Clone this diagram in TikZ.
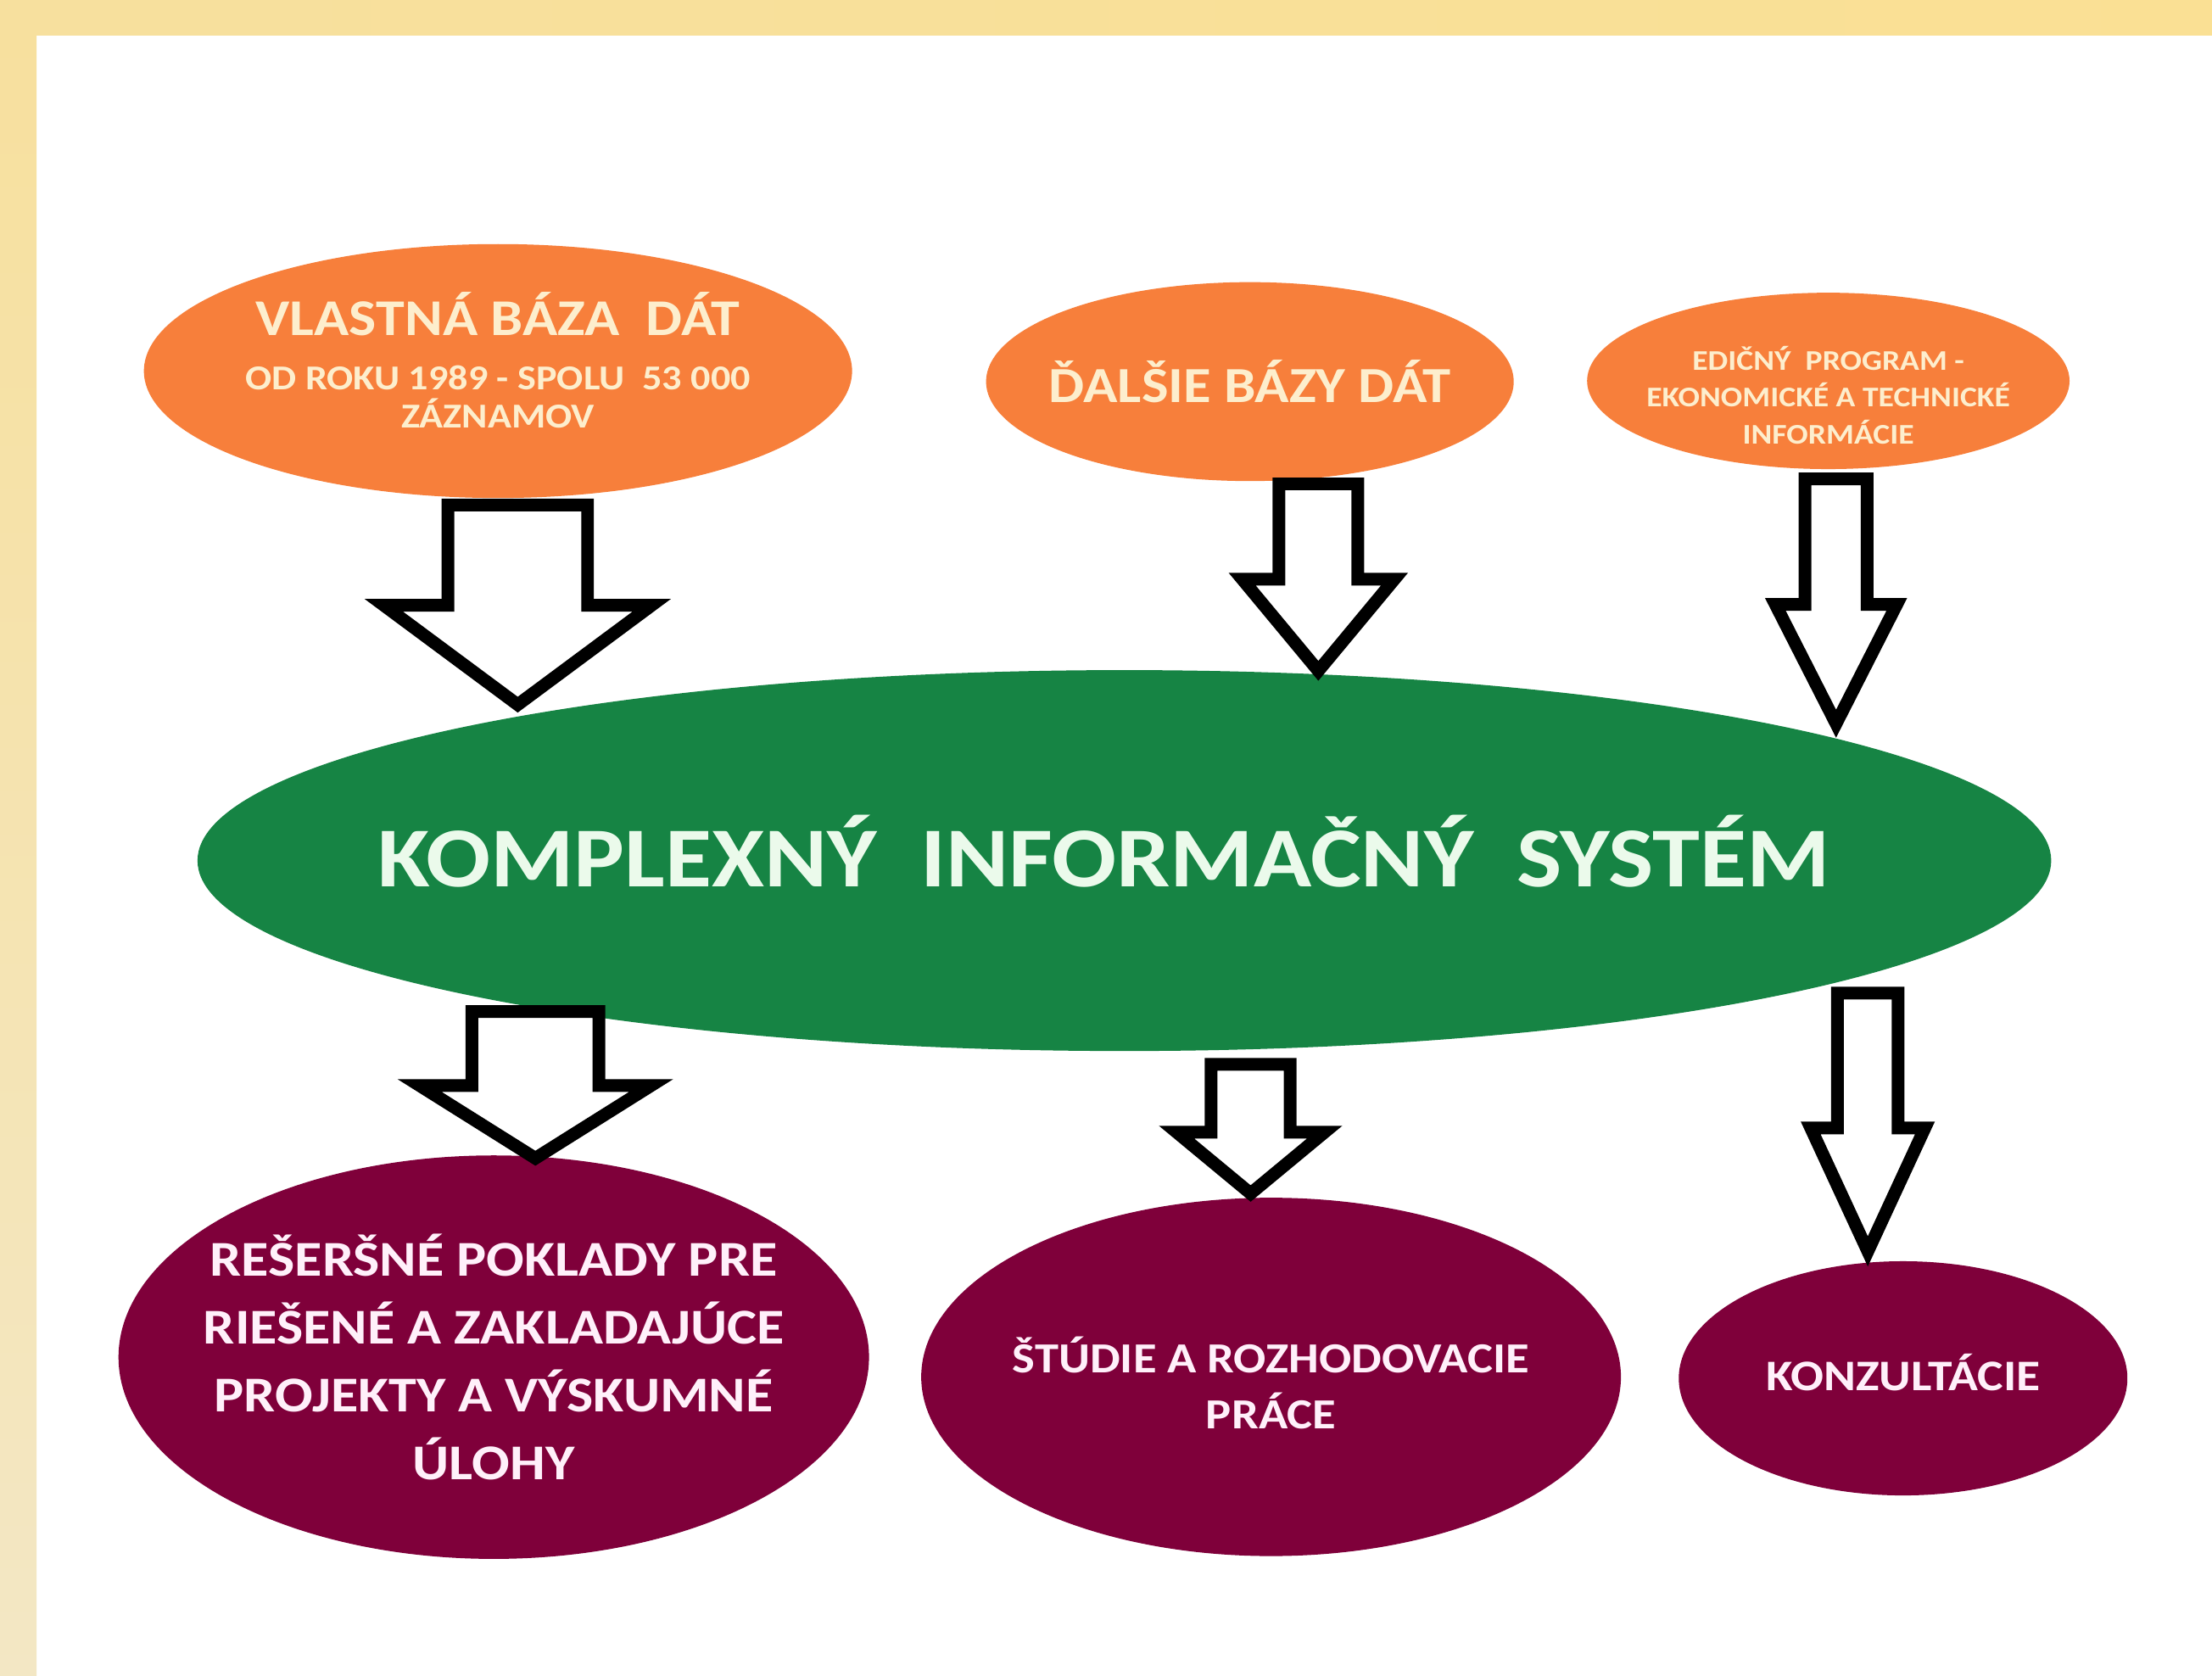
\documentclass[tikz,border=0pt]{standalone}
\usepackage{fontspec}
\setmainfont{Carlito}[FakeStretch=1.12]
\usetikzlibrary{shapes,arrows}
\usetikzlibrary{positioning,calc}
\definecolor{bandL}{RGB}{247,224,158}
\definecolor{bandR}{RGB}{250,224,148}
\definecolor{bandB}{RGB}{243,231,196}
\definecolor{orangeC}{RGB}{247,127,59}
\definecolor{creamC}{RGB}{253,238,205}
\definecolor{greenC}{RGB}{22,132,68}
\definecolor{mintC}{RGB}{235,250,235}
\definecolor{wineC}{RGB}{127,0,58}
\definecolor{pinkC}{RGB}{255,240,250}
\newcommand{\hollowarrow}[5]{%
\draw[hollow] let \p1=(#1), \p2=(#2) in
  (\x1-#3,\y1) -- (\x1+#3,\y1) -- (\x1+#3,\y2+#5) -- (\x1+#4,\y2+#5)
  -- (\x2,\y2) -- (\x1-#4,\y2+#5) -- (\x1-#3,\y2+#5) -- cycle;}

\begin{document}
\begin{tikzpicture}[font=\bfseries]
\tikzstyle{src}=[ellipse, fill=orangeC, text=creamC, inner sep=-1.2cm, align=center]
\tikzstyle{kis}=[ellipse, fill=greenC, text=mintC, inner sep=-1.2cm]
\tikzstyle{result}=[ellipse, fill=wineC, text=pinkC, inner sep=-1.2cm, align=center]
\tikzstyle{hollow}=[draw=black, fill=white, line width=0.09cm]
\useasboundingbox (0,0) rectangle (15.68,11.88);
\fill[white] (0,0) rectangle (15.68,11.88);
\shade[left color=bandL, right color=bandR] (0,11.63) rectangle (15.68,11.88);
\shade[top color=bandL, bottom color=bandB] (0,0) rectangle (0.26,11.63);

\node[src, minimum width=5.02cm, minimum height=1.80cm, text depth=4.5pt, font=\bfseries\fontsize{7.05}{7.7}\selectfont] (1) at (3.53,9.25)
  {{\fontsize{10.4}{11}\selectfont VLASTNÁ BÁZA\ \ DÁT}\\[3.3pt] OD ROKU 1989 - SPOLU\ \ 53 000\\ZÁZNAMOV};
\node[src, minimum width=3.74cm, minimum height=1.41cm, font=\bfseries\fontsize{10.2}{12}\selectfont] (2) at (8.86,9.175)
  {ĎALŠIE BÁZY DÁT};
\node[src, minimum width=3.42cm, minimum height=1.25cm, text height=25.4pt, font=\bfseries\fontsize{5.75}{7.4}\selectfont] (3) at (12.96,9.18)
  {EDIČNÝ\ \ PROGRAM -\\EKONOMICKÉ A TECHNICKÉ\\INFORMÁCIE};
\node[kis, minimum width=13.14cm, minimum height=2.70cm, text depth=4pt, font=\bfseries\fontsize{17.2}{20}\selectfont] (k) at (7.97,5.78)
  {\hspace*{-0.29cm}KOMPLEXNÝ\ \ INFORMAČNÝ\ \ SYSTÉM};
\node[result, minimum width=5.32cm, minimum height=2.86cm, font=\bfseries\fontsize{10.1}{13.7}\selectfont] (4) at (3.50,2.26)
  {REŠERŠNÉ POKLADY PRE\\RIEŠENÉ A ZAKLADAJÚCE\\PROJEKTY A VÝSKUMNÉ\\ÚLOHY};
\node[result, minimum width=4.96cm, minimum height=2.54cm, text height=21.1pt, font=\bfseries\fontsize{8.65}{11.4}\selectfont] (5) at (9.01,2.12)
  {ŠTÚDIE A ROZHODOVACIE\\PRÁCE};
\node[result, minimum width=3.18cm, minimum height=1.66cm, text depth=2.3pt, font=\bfseries\fontsize{8.8}{11.4}\selectfont] (6) at (13.49,2.11)
  {KONZULTÁCIE};

\coordinate (a1) at (3.67,8.30);   \coordinate (a2) at (3.67,6.885);
\coordinate (b1) at (9.345,8.45);  \coordinate (b2) at (9.345,7.125);
\coordinate (c1) at (13.015,8.485);\coordinate (c2) at (13.015,6.75);
\coordinate (d1) at (3.795,4.71);  \coordinate (d2) at (3.795,3.67);
\coordinate (e1) at (8.865,4.335); \coordinate (e2) at (8.865,3.42);
\coordinate (f1) at (13.24,4.84);  \coordinate (f2) at (13.24,3.01);
\hollowarrow{a1}{a2}{0.495cm}{0.95cm}{0.705cm}
\hollowarrow{b1}{b2}{0.28cm}{0.54cm}{0.65cm}
\hollowarrow{c1}{c2}{0.22cm}{0.43cm}{0.845cm}
\hollowarrow{d1}{d2}{0.45cm}{0.82cm}{0.515cm}
\hollowarrow{e1}{e2}{0.28cm}{0.525cm}{0.435cm}
\hollowarrow{f1}{f2}{0.215cm}{0.405cm}{0.875cm}
\end{tikzpicture}
\end{document}
